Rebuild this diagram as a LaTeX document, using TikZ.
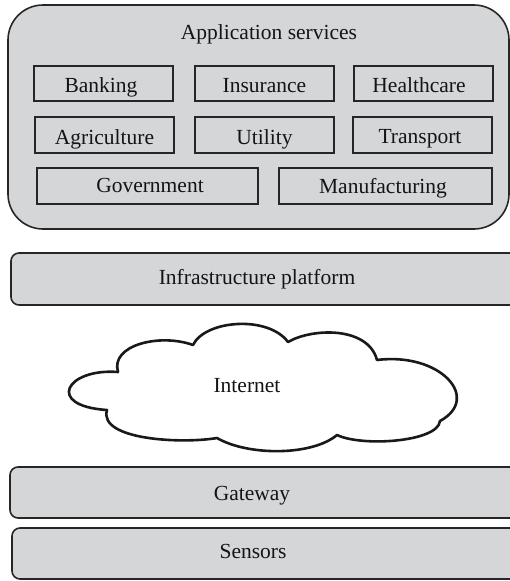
\documentclass[tikz,border=0pt]{standalone}
\usepackage{fontspec}
\setmainfont{Liberation Serif}
\definecolor{fillgray}{HTML}{D5D6D8}
\definecolor{linegray}{HTML}{262626}
\tikzset{
  panel/.style={draw=linegray, line width=1.6pt, fill=fillgray, rounded corners=8pt, inner sep=0pt},
  item/.style={draw=linegray, line width=1.6pt, fill=fillgray, inner sep=0pt, minimum height=35pt},
  txt/.style={font=\fontsize{21.5}{25}\selectfont, text=black!92, inner sep=0pt, anchor=base},
  cloudline/.style={draw=black!90, line width=2.6pt, fill=white, line join=round}
}
\begin{document}
\begin{tikzpicture}[x=1pt, y=-1pt]
\useasboundingbox (0,0) rectangle (510,581);
\clip (0,0) rectangle (510,581);
% application services container
\node[panel, rounded corners=35pt, minimum width=501pt, minimum height=224pt] (app) at (258.5,117) {};
\node[txt] (apptitle) at (269,39) {Application services};
% row 1
\node[item, minimum width=139pt] (bank) at (103.5,83.5) {};
\node[txt] (bankt) at (101,92) {Banking};
\node[item, minimum width=139pt] (ins) at (264.5,83.5) {};
\node[txt] (inst) at (264.5,92) {Insurance};
\node[item, minimum width=139pt] (health) at (423.5,83.5) {};
\node[txt] (healtht) at (419,92) {Healthcare};
% row 2
\node[item, minimum width=139pt, minimum height=36pt] (agri) at (104.5,135) {};
\node[txt] (agrit) at (104.5,144) {Agriculture};
\node[item, minimum width=139pt, minimum height=36pt] (util) at (264.5,135) {};
\node[txt] (utilt) at (264.5,144) {Utility};
\node[item, minimum width=139pt, minimum height=36pt] (trans) at (422.5,135) {};
\node[txt] (transt) at (420,143) {Transport};
% row 3
\node[item, minimum width=221pt, minimum height=36pt] (gov) at (147.5,186) {};
\node[txt] (govt) at (150,192.5) {Government};
\node[item, minimum width=213pt, minimum height=36pt] (manu) at (385.5,186) {};
\node[txt] (manut) at (383,193) {Manufacturing};
% infrastructure platform
\node[panel, minimum width=509pt, minimum height=52pt] (infra) at (265.5,279) {};
\node[txt] (infrat) at (257,284) {Infrastructure platform};
% cloud
\draw[cloudline] (118,372)
  .. controls (110,345) and (160,333) .. (193,345)
  .. controls (205,320) and (268,315) .. (288,342)
  .. controls (312,328) and (368,326) .. (377,360)
  .. controls (440,352) and (482,398) .. (440,421)
  .. controls (438,442) and (362,447) .. (337,435)
  .. controls (312,456) and (248,456) .. (217,438)
  .. controls (182,444) and (98,440) .. (107,410)
  .. controls (45,406) and (66,368) .. cycle;
\node[txt] (internet) at (247,392) {Internet};
% gateway and sensors
\node[panel, minimum width=510pt, minimum height=51pt] (gate) at (265,492.5) {};
\node[txt] (gatet) at (252,500) {Gateway};
\node[panel, minimum width=508pt, minimum height=51pt] (sens) at (266,553.5) {};
\node[txt] (senst) at (253,558.5) {Sensors};
\end{tikzpicture}
\end{document}
